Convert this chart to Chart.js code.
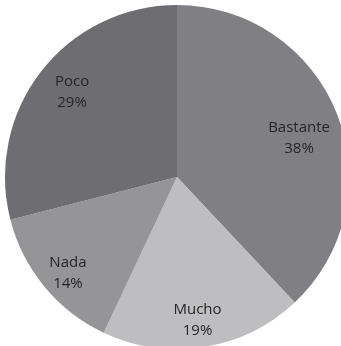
<!DOCTYPE html>
<html>
<head>
<meta charset="utf-8">
<script src="https://cdn.jsdelivr.net/npm/chart.js@4/dist/chart.umd.min.js"></script>
<style>
html,body{margin:0;padding:0;background:#fff;overflow:hidden;width:341px;height:346px;}
#wrap{position:absolute;left:0;top:0;width:354px;height:354px;}
</style>
</head>
<body>
<div id="wrap"><canvas id="c" width="354" height="354"></canvas></div>
<script>
const categories = ["Bastante", "Mucho", "Nada", "Poco"];
const percents = [38, 19, 14, 29];
const sliceColors = ["#808084", "#bebec0", "#959598", "#6e6e72"];
const labelRadius = [0.745, 0.837, 0.843, 0.785];
const labelAngleShift = [3.9, 0.8, -1.6, 1.2];

const labelPlugin = {
  id: 'sliceLabels',
  afterDatasetsDraw(chart) {
    const ctx = chart.ctx;
    const meta = chart.getDatasetMeta(0);
    ctx.save();
    ctx.font = '15px "Open Sans", "Noto Sans", sans-serif';
    ctx.fillStyle = '#262626';
    ctx.textAlign = 'center';
    ctx.textBaseline = 'middle';
    meta.data.forEach((arc, i) => {
      const p = arc.getProps(['x','y','startAngle','endAngle','outerRadius'], true);
      const mid = (p.startAngle + p.endAngle) / 2 + labelAngleShift[i] * Math.PI / 180;
      const r = p.outerRadius * labelRadius[i];
      const x = p.x + Math.cos(mid) * r;
      const y = p.y + Math.sin(mid) * r;
      ctx.fillText(categories[i], x, y - 10);
      ctx.fillText(percents[i] + '%', x, y + 11);
    });
    ctx.restore();
  }
};

new Chart(document.getElementById('c'), {
  type: 'pie',
  data: {
    labels: categories,
    datasets: [{
      data: percents,
      backgroundColor: sliceColors,
      borderWidth: 0
    }]
  },
  options: {
    responsive: false,
    animation: false,
    layout: { padding: 5 },
    plugins: { legend: { display: false }, tooltip: { enabled: false } }
  },
  plugins: [labelPlugin]
});
</script>
</body>
</html>
